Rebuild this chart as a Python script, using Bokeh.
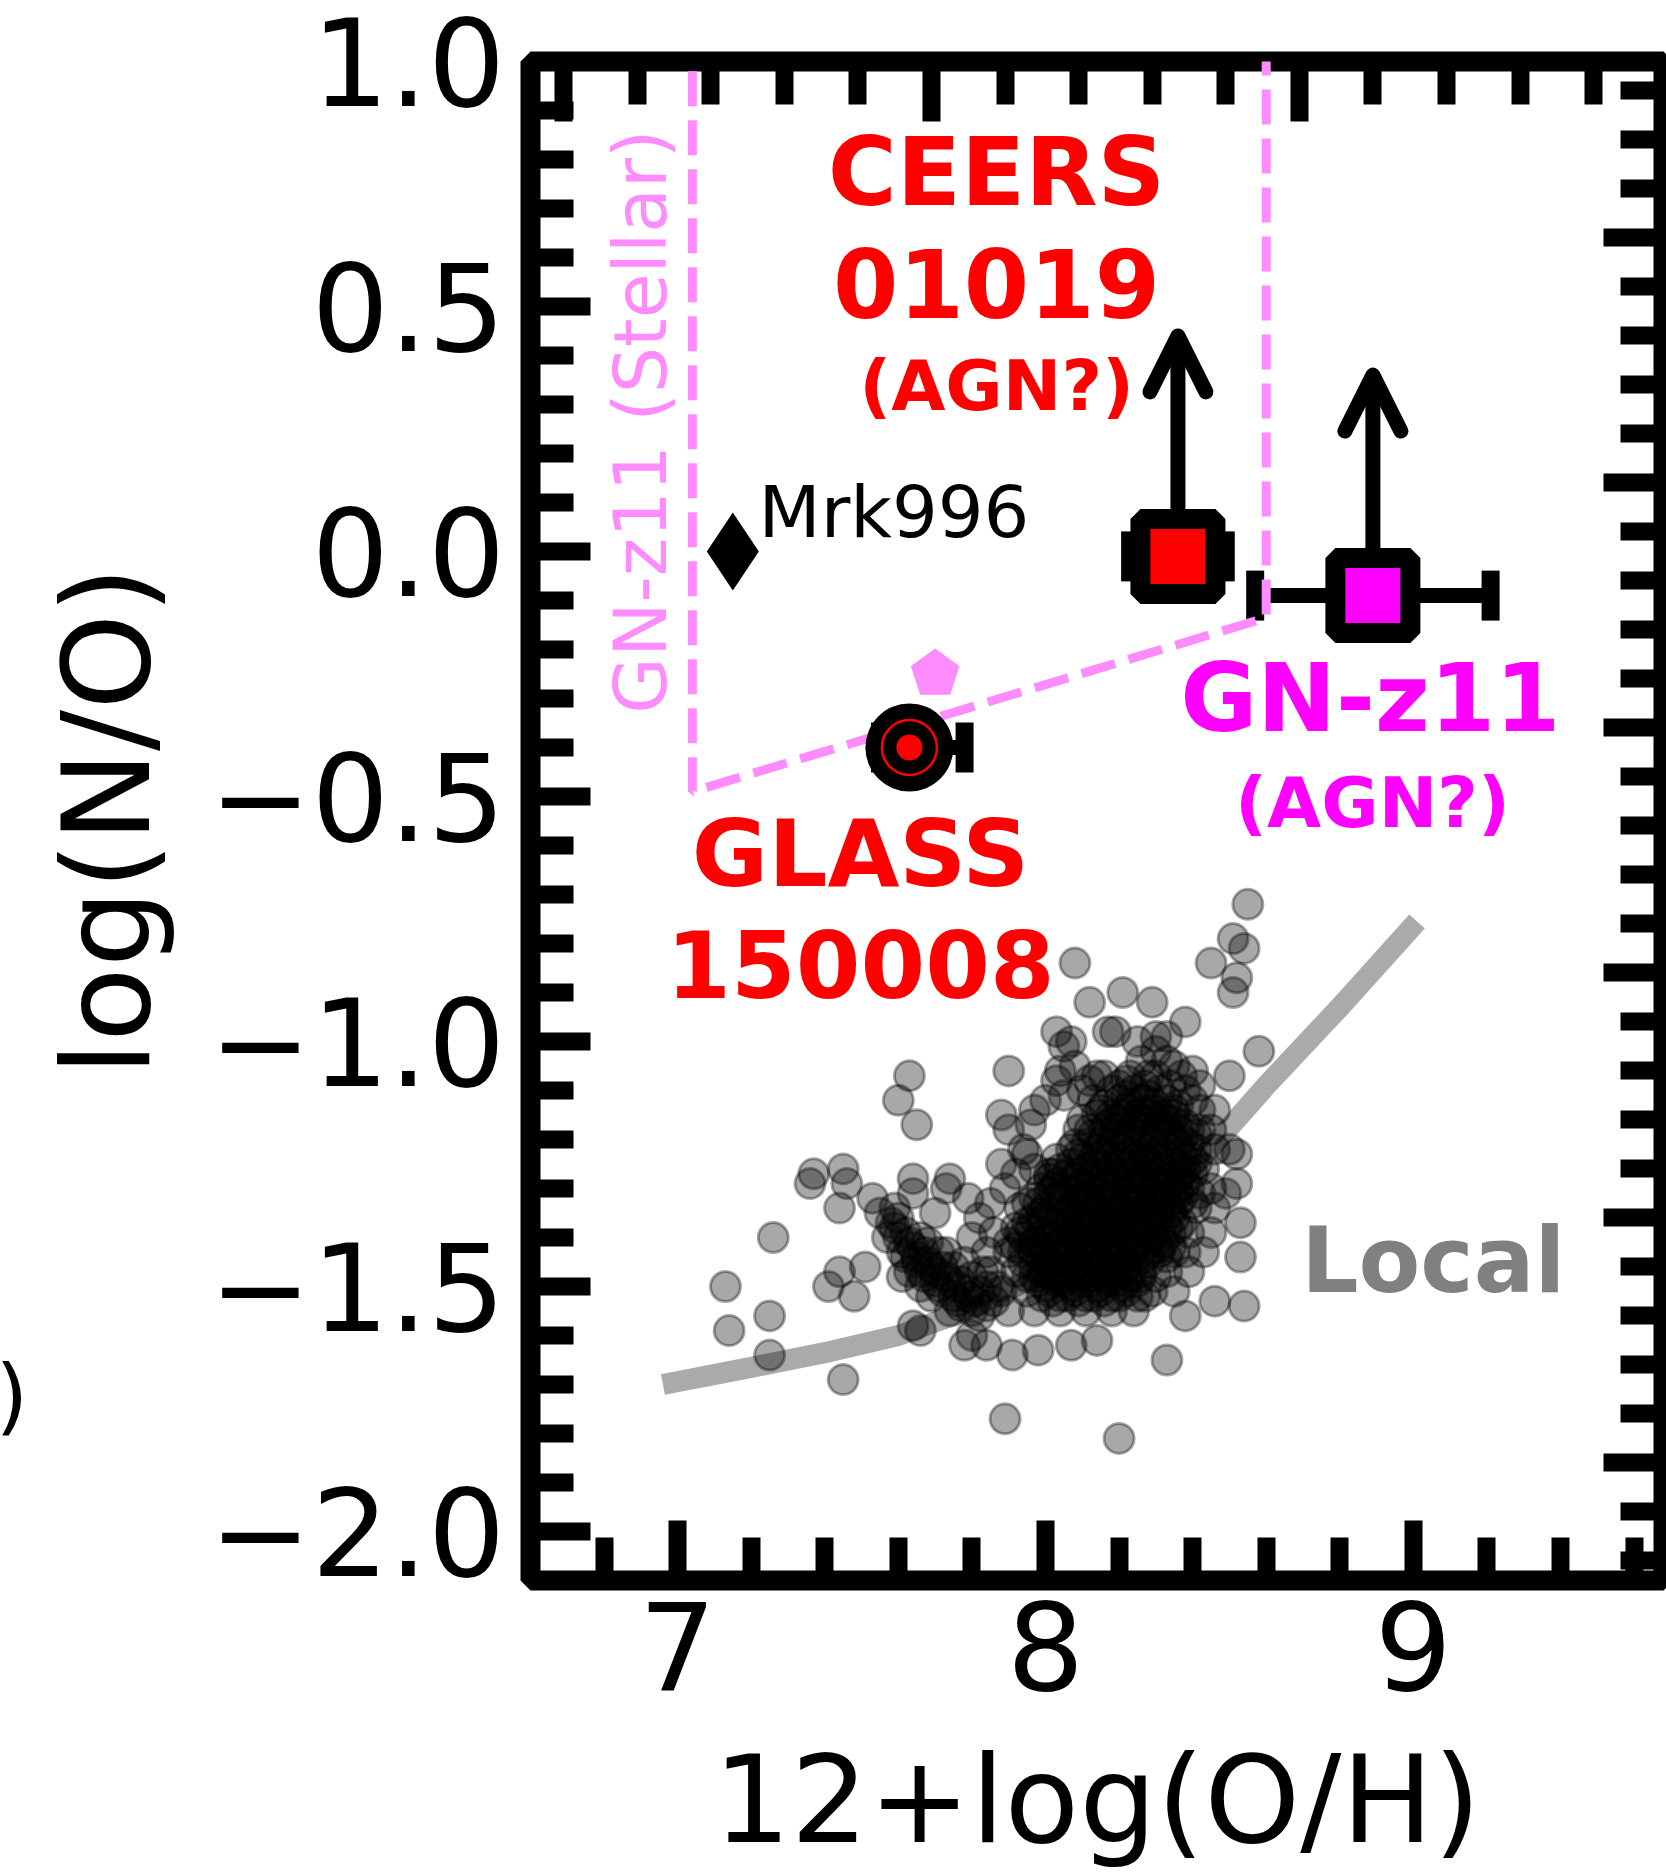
import math
from bokeh.plotting import figure
from bokeh.models import (Range1d, LinearAxis, FixedTicker, Arrow, OpenHead, Whisker, TeeHead,
                          ColumnDataSource, Label, CustomJSTickFormatter)
from bokeh.core.properties import value
from bokeh.embed import file_html
from bokeh.resources import INLINE

FONT = "DejaVu Sans"

# ---------------- data ----------------
x_range_vals = [6.6, 9.68]
y_range_vals = [-2.1, 1.0]
solar_oh = 8.69
solar_no = -0.86

x_major_ticks = [7, 8, 9]
x_tick_labels = ["7", "8", "9"]
x_minor_ticks = [6.8, 7.2, 7.4, 7.6, 7.8, 8.2, 8.4, 8.6, 8.8, 9.2, 9.4, 9.6]
y_major_ticks = [-2.0, -1.5, -1.0, -0.5, 0.0, 0.5, 1.0]
y_tick_labels = ["\u22122.0", "\u22121.5", "\u22121.0", "\u22120.5", "0.0", "0.5", "1.0"]
y_minor_ticks = [-1.9, -1.8, -1.7, -1.6, -1.4, -1.3, -1.2, -1.1, -0.9, -0.8, -0.7, -0.6,
                 -0.4, -0.3, -0.2, -0.1, 0.1, 0.2, 0.3, 0.4, 0.6, 0.7, 0.8, 0.9]
# top axis: log(Z/Zsun); right axis: [N/O]
top_major_ticks = [-2, -1, 0]
top_minor_ticks = [-1.8, -1.6, -1.4, -1.2, -0.8, -0.6, -0.4, -0.2, 0.2, 0.4, 0.6, 0.8]
right_major_ticks = [-1.0, -0.5, 0.0, 0.5, 1.0, 1.5]
right_minor_ticks = [-1.2, -1.1, -0.9, -0.8, -0.7, -0.6, -0.4, -0.3, -0.2, -0.1, 0.1, 0.2, 0.3,
                     0.4, 0.6, 0.7, 0.8, 0.9, 1.1, 1.2, 1.3, 1.4, 1.6, 1.7, 1.8]

# GN-z11 stellar-origin region (dashed boundary)
stellar_oh = [7.04, 7.04, 8.60, 8.60]
stellar_no = [1.08, -0.49, -0.135, 1.08]

# local relation curve
curve_oh = [6.96, 7.2, 7.4, 7.6, 7.8, 8.0, 8.2, 8.4, 8.6, 8.8, 9.01]
curve_no = [-1.70, -1.665, -1.635, -1.60, -1.545, -1.47, -1.375, -1.26, -1.09, -0.93, -0.755]

# local sample: individually read points
local_oh = [8.55, 8.51, 8.54, 8.45, 8.52, 8.51, 8.08, 8.58, 8.50, 7.90,
            7.88, 7.97, 7.90, 8.03, 8.12, 8.21, 8.29, 8.38, 8.30, 8.19,
            8.07, 8.04, 8.12, 8.26, 8.33, 8.42, 8.46, 8.05, 8.10, 8.52,
            7.88, 7.95, 8.01, 7.63, 7.60, 7.65, 7.37, 7.45, 7.64, 7.74,
            7.26, 7.13, 7.14, 7.25, 7.25, 7.45, 7.44, 7.51, 7.41, 7.48,
            7.61, 7.66, 7.64, 7.66, 7.44, 7.36, 7.46, 7.53, 7.59, 7.64,
            7.70, 7.73, 7.79, 7.78, 7.80, 8.53, 8.53, 8.46, 8.54, 8.38,
            8.24, 8.33, 8.14, 8.07, 7.98, 7.91, 7.84, 7.89, 8.20, 8.49,
            8.52, 8.50]
local_no = [-0.72, -0.79, -0.81, -0.84, -0.87, -0.90, -0.84, -1.02, -1.07, -1.06,
            -1.15, -1.14, -1.18, -0.98, -0.92, -0.90, -0.92, -0.96, -0.99, -0.98,
            -1.00, -1.06, -1.08, -1.04, -1.04, -1.09, -1.14, -1.11, -1.16, -1.23,
            -1.25, -1.23, -1.27, -1.07, -1.12, -1.17, -1.27, -1.26, -1.28, -1.28,
            -1.40, -1.50, -1.59, -1.56, -1.64, -1.69, -1.47, -1.46, -1.50, -1.52,
            -1.48, -1.50, -1.58, -1.59, -1.34, -1.29, -1.29, -1.32, -1.34, -1.31,
            -1.35, -1.30, -1.32, -1.62, -1.60, -1.37, -1.44, -1.53, -1.54, -1.56,
            -1.55, -1.65, -1.61, -1.62, -1.63, -1.64, -1.62, -1.77, -1.81, -1.31,
            -1.29, -1.22]
# low-metallicity lobe of the local sample
lobe_oh = [7.55, 7.58, 7.60, 7.63, 7.65, 7.68, 7.70, 7.73, 7.76, 7.79, 7.81, 7.57, 7.62,
           7.67, 7.72, 7.77, 7.82, 7.60, 7.66, 7.71, 7.75, 7.80, 7.84, 7.63, 7.69, 7.74,
           7.59, 7.64, 7.69, 7.74, 7.79, 7.84, 7.61, 7.66, 7.71, 7.76, 7.87, 7.83, 7.78, 7.73, 7.68,
           7.62, 7.67, 7.72, 7.77, 7.82, 7.86, 7.70, 7.75, 7.80, 7.65]
lobe_no = [-1.35, -1.37, -1.40, -1.41, -1.44, -1.45, -1.47, -1.48, -1.50, -1.51, -1.53, -1.40, -1.44,
           -1.48, -1.51, -1.54, -1.56, -1.36, -1.40, -1.43, -1.46, -1.48, -1.50, -1.47, -1.52, -1.55,
           -1.38, -1.42, -1.46, -1.49, -1.52, -1.54, -1.43, -1.47, -1.50, -1.53, -1.50, -1.47, -1.45, -1.43, -1.41,
           -1.39, -1.43, -1.46, -1.49, -1.51, -1.53, -1.49, -1.52, -1.55, -1.45]
# upper arm of the local sample
arm_oh = [8.05, 8.08, 8.03, 8.10, 8.14, 8.25, 8.30, 8.35, 8.28, 8.22, 8.17,
          8.33, 8.40, 8.00, 7.96, 7.94, 7.92, 7.97, 7.89, 7.85, 7.82, 7.80]
arm_no = [-1.01, -1.05, -1.08, -1.10, -1.07, -1.00, -1.02, -1.05, -1.07, -1.08, -0.98,
          -0.99, -1.06, -1.12, -1.17, -1.22, -1.27, -1.26, -1.30, -1.33, -1.36, -1.40]
# dense core of the local sample, read row by row (log N/O of the row, then 12+log(O/H) values)
core_rows_no = [-1.10, -1.14, -1.18, -1.22, -1.26, -1.30, -1.34, -1.39, -1.43, -1.47, -1.51, -1.55,
                -1.16, -1.20, -1.24, -1.28, -1.32, -1.36, -1.41, -1.45, -1.49, -1.53,
                -1.12, -1.17, -1.23, -1.29, -1.35, -1.40, -1.46, -1.50,
                -1.13, -1.19, -1.25, -1.31, -1.37, -1.42, -1.48, -1.52,
                -1.15, -1.21, -1.27, -1.33, -1.38, -1.44, -1.49,
                -1.24, -1.30, -1.36, -1.42, -1.47, -1.11, -1.16,
                -1.07, -1.12, -1.18, -1.24, -1.28, -1.33, -1.38, -1.43, -1.48, -1.52,
                -1.09, -1.15, -1.21, -1.27, -1.32, -1.37, -1.41, -1.46]
core_rows_oh = [
    [8.18, 8.24, 8.31, 8.38],
    [8.15, 8.22, 8.29, 8.35, 8.42],
    [8.12, 8.19, 8.26, 8.33, 8.39, 8.45],
    [8.07, 8.14, 8.20, 8.27, 8.34, 8.41, 8.46],
    [8.04, 8.11, 8.18, 8.24, 8.31, 8.38, 8.43],
    [7.99, 8.05, 8.12, 8.19, 8.26, 8.33, 8.39, 8.45],
    [7.93, 8.00, 8.07, 8.14, 8.20, 8.27, 8.34, 8.41, 8.46],
    [7.86, 7.93, 8.00, 8.07, 8.14, 8.20, 8.27, 8.34, 8.39, 8.45],
    [7.84, 7.90, 7.97, 8.04, 8.11, 8.18, 8.24, 8.31, 8.38, 8.43],
    [7.85, 7.92, 7.99, 8.05, 8.12, 8.19, 8.26, 8.33, 8.39],
    [7.88, 7.95, 8.01, 8.08, 8.15, 8.22, 8.29, 8.35],
    [7.90, 7.97, 8.04, 8.11, 8.18],
    [8.20, 8.27, 8.34],
    [8.16, 8.23, 8.30, 8.37],
    [8.13, 8.20, 8.27, 8.34, 8.40],
    [8.08, 8.15, 8.22, 8.29, 8.36],
    [8.03, 8.10, 8.17, 8.24, 8.31, 8.37],
    [7.97, 8.04, 8.11, 8.17, 8.24, 8.31],
    [7.90, 7.97, 8.04, 8.10, 8.17, 8.24, 8.30],
    [7.94, 8.01, 8.08, 8.15, 8.22, 8.28],
    [7.98, 8.05, 8.12, 8.19, 8.25],
    [8.02, 8.09, 8.16],
    [8.20, 8.27, 8.33],
    [8.17, 8.24, 8.31, 8.38],
    [8.09, 8.16, 8.23, 8.30, 8.37],
    [8.03, 8.10, 8.17, 8.24, 8.31, 8.38],
    [7.99, 8.06, 8.13, 8.20, 8.27, 8.34],
    [7.94, 8.01, 8.08, 8.15, 8.22, 8.29],
    [7.97, 8.04, 8.11, 8.18, 8.24],
    [8.00, 8.07, 8.14, 8.21],
    [8.16, 8.23, 8.30, 8.36],
    [8.13, 8.20, 8.27, 8.34, 8.41],
    [8.07, 8.14, 8.21, 8.28, 8.35, 8.41],
    [8.01, 8.08, 8.15, 8.22, 8.29, 8.36, 8.42],
    [7.95, 8.02, 8.09, 8.16, 8.23, 8.30, 8.37],
    [7.92, 7.99, 8.06, 8.13, 8.20, 8.27, 8.34],
    [7.95, 8.02, 8.09, 8.16, 8.23, 8.30],
    [7.99, 8.06, 8.13, 8.20, 8.27],
    [8.18, 8.25, 8.32],
    [8.11, 8.18, 8.25, 8.32, 8.39],
    [8.06, 8.13, 8.20, 8.27, 8.34, 8.40],
    [7.98, 8.05, 8.12, 8.19, 8.26, 8.33, 8.40],
    [7.96, 8.03, 8.10, 8.17, 8.24, 8.31, 8.36],
    [7.99, 8.06, 8.13, 8.20, 8.27, 8.33],
    [8.03, 8.10, 8.17, 8.22],
    [8.10, 8.17, 8.24, 8.31],
    [8.02, 8.09, 8.16, 8.23, 8.30, 8.36],
    [8.00, 8.07, 8.14, 8.21, 8.28, 8.35],
    [7.96, 8.03, 8.10, 8.17, 8.24, 8.31],
    [8.00, 8.07, 8.14, 8.21],
    [8.22, 8.28],
    [8.19, 8.26, 8.33],
    [8.16, 8.23, 8.30, 8.37],
    [8.13, 8.26, 8.40],
    [8.09, 8.16, 8.23, 8.30, 8.36, 8.42],
    [8.03, 8.27, 8.38],
    [8.01, 8.12, 8.19, 8.26, 8.33],
    [7.95, 8.08, 8.15, 8.22, 8.29, 8.36],
    [7.92, 8.05, 8.12, 8.19, 8.26, 8.33],
    [7.94, 8.00, 8.07, 8.14, 8.21, 8.28, 8.35],
    [7.97, 8.04, 8.11, 8.18, 8.26],
    [8.04, 8.11, 8.18, 8.25],
    [8.20, 8.27, 8.34],
    [8.14, 8.21, 8.28, 8.35],
    [8.08, 8.15, 8.22, 8.29, 8.36],
    [8.02, 8.09, 8.16, 8.23, 8.30, 8.37],
    [7.97, 8.04, 8.11, 8.18, 8.25, 8.32],
    [7.99, 8.06, 8.13, 8.20, 8.27],
    [7.97, 8.04, 8.11, 8.18, 8.25, 8.32],
    [8.01, 8.08, 8.15, 8.22],
]

# individual objects
mrk996_oh, mrk996_no = [7.15], [0.0]
ceers_oh, ceers_no = [8.36], [-0.01]
ceers_oh_err = [0.13]
ceers_no_limit_tip = [0.44]
gnz11_oh, gnz11_no = [8.89], [-0.09]
gnz11_oh_err = [0.32]
gnz11_no_limit_tip = [0.36]
glass_oh, glass_no = [7.63], [-0.40]
glass_oh_err_lo, glass_oh_err_hi = [0.08], [0.15]
glass_alt_oh, glass_alt_no = [7.70], [-0.25]

# ---------------- figure ----------------
p = figure(width=1666, height=1873,
           x_range=Range1d(*x_range_vals), y_range=Range1d(*y_range_vals),
           output_backend="svg", toolbar_location=None,
           min_border_left=530, min_border_right=3, min_border_top=61, min_border_bottom=293)
p.grid.visible = False
p.background_fill_color = "white"
p.border_fill_color = "white"
p.outline_line_color = "black"
p.outline_line_width = 20
p.outline_line_alpha = 1.0

p.extra_x_ranges = {"zsun": Range1d(x_range_vals[0] - solar_oh, x_range_vals[1] - solar_oh)}
p.extra_y_ranges = {"nosun": Range1d(y_range_vals[0] - solar_no, y_range_vals[1] - solar_no)}


def fmt(vals, labs):
    return CustomJSTickFormatter(args=dict(vals=vals, labs=labs), code="""
        for (let i = 0; i < vals.length; i++) {
            if (Math.abs(vals[i] - tick) < 1e-6) { return labs[i]; }
        }
        return "";
    """)


def style(ax, labelled, standoff):
    ax.axis_line_color = None
    ax.major_tick_in = 60
    ax.major_tick_out = 0
    ax.minor_tick_in = 43
    ax.minor_tick_out = 0
    ax.major_tick_line_width = 18
    ax.minor_tick_line_width = 18
    ax.major_tick_line_color = "black"
    ax.minor_tick_line_color = "black"
    ax.major_tick_line_cap = "butt"
    ax.minor_tick_line_cap = "butt"
    ax.major_label_standoff = standoff
    ax.major_label_text_font = FONT
    ax.major_label_text_color = "black"
    ax.major_label_text_font_size = "122px" if labelled else "0px"
    ax.axis_label_text_font = FONT
    ax.axis_label_text_font_style = "normal"
    ax.axis_label_text_font_size = "122px"
    ax.axis_label_text_color = "black"


xax = p.below[0]
xax.ticker = FixedTicker(ticks=x_major_ticks, minor_ticks=x_minor_ticks)
xax.formatter = fmt(x_major_ticks, x_tick_labels)
style(xax, True, 20)
xax.axis_label = "12+log(O/H)"
xax.axis_label_standoff = 36

yax = p.left[0]
yax.ticker = FixedTicker(ticks=y_major_ticks, minor_ticks=y_minor_ticks)
yax.formatter = fmt(y_major_ticks, y_tick_labels)
style(yax, True, 25)
yax.axis_label = "log(N/O)"
yax.axis_label_standoff = 28

top = LinearAxis(x_range_name="zsun",
                 ticker=FixedTicker(ticks=top_major_ticks, minor_ticks=top_minor_ticks),
                 formatter=CustomJSTickFormatter(code="return '';"))
style(top, False, 0)
p.add_layout(top, "above")

right = LinearAxis(y_range_name="nosun",
                   ticker=FixedTicker(ticks=right_major_ticks, minor_ticks=right_minor_ticks),
                   formatter=CustomJSTickFormatter(code="return '';"))
style(right, False, 0)
p.add_layout(right, "right")

PINK = "#ff8cff"
RED = "#ff0000"
MAGENTA = "#ff00ff"

# GN-z11 stellar region
p.line(stellar_oh, stellar_no, line_color=PINK, line_width=9, line_dash="35 14")
p.text(x=[6.90], y=[0.265], text=["GN-z11 (Stellar)"], angle=math.pi / 2,
       text_font=value(FONT), text_font_size="73px", text_color=PINK,
       text_align="center", text_baseline="middle")

# local relation and sample
p.line(curve_oh, curve_no, line_color="#aaaaaa", line_width=21)
all_oh = local_oh + lobe_oh + arm_oh
all_no = local_no + lobe_no + arm_no
for yv, row in zip(core_rows_no, core_rows_oh):
    all_oh += row
    all_no += [yv] * len(row)
p.scatter(all_oh, all_no, marker="circle", size=30, fill_color="black", fill_alpha=0.34,
          line_color="black", line_alpha=0.34, line_width=3)

# error bars (under the markers)
err_src = ColumnDataSource(dict(
    base=ceers_no + gnz11_no + glass_no,
    lower=[ceers_oh[0] - ceers_oh_err[0], gnz11_oh[0] - gnz11_oh_err[0], glass_oh[0] - glass_oh_err_lo[0]],
    upper=[ceers_oh[0] + ceers_oh_err[0], gnz11_oh[0] + gnz11_oh_err[0], glass_oh[0] + glass_oh_err_hi[0]],
))
p.add_layout(Whisker(source=err_src, base="base", lower="lower", upper="upper", dimension="width",
                     line_width=15, line_color="black", level="underlay",
                     upper_head=TeeHead(size=50, line_width=18, line_color="black"),
                     lower_head=TeeHead(size=50, line_width=18, line_color="black")))

# lower-limit arrows
for ox, oy, tip in [(ceers_oh, ceers_no, ceers_no_limit_tip), (gnz11_oh, gnz11_no, gnz11_no_limit_tip)]:
    p.add_layout(Arrow(end=OpenHead(size=56, line_width=15, line_color="black", line_cap="round",
                                    line_join="round"),
                       x_start=ox[0], y_start=oy[0], x_end=ox[0], y_end=tip[0],
                       line_width=15, line_color="black", level="underlay"))

# markers
p.scatter(ceers_oh, ceers_no, marker="square", size=75, fill_color=RED, line_color="black", line_width=20)
p.scatter(gnz11_oh, gnz11_no, marker="square", size=75, fill_color=MAGENTA, line_color="black", line_width=20)
p.scatter(mrk996_oh, mrk996_no, marker="diamond", size=78, fill_color="black", line_color=None)
p.ngon(x=glass_alt_oh, y=glass_alt_no, radius=25, radius_units="screen", n=5,
       angle=0, fill_color=PINK, line_color=PINK)
p.scatter(glass_oh, glass_no, marker="circle", size=88, fill_color="black", line_color=None)
p.scatter(glass_oh, glass_no, marker="circle", size=55, fill_color=None, line_color=RED, line_width=2.5)
p.scatter(glass_oh, glass_no, marker="circle", size=26, fill_color=RED, line_color=None)

# labels
p.text(x=[7.867, 7.867], y=[0.774, 0.547], text=["CEERS", "01019"], text_font=value(FONT),
       text_font_style="bold", text_font_size="94px", text_color=RED,
       text_align="center", text_baseline="alphabetic")
p.text(x=[7.867], y=[0.338], text=["(AGN?)"], text_font=value(FONT),
       text_font_style="bold", text_font_size="70px", text_color=RED,
       text_align="center", text_baseline="alphabetic")
p.text(x=[7.497, 7.497], y=[-0.618, -0.841], text=["GLASS", "150008"], text_font=value(FONT),
       text_font_style="bold", text_font_size="93px", text_color=RED,
       text_align="center", text_baseline="alphabetic")
p.text(x=[8.883], y=[-0.299], text=["GN-z11"], text_font=value(FONT),
       text_font_style="bold", text_font_size="94px", text_color=MAGENTA,
       text_align="center", text_baseline="alphabetic")
p.text(x=[8.889], y=[-0.514], text=["(AGN?)"], text_font=value(FONT),
       text_font_style="bold", text_font_size="70px", text_color=MAGENTA,
       text_align="center", text_baseline="alphabetic")
p.text(x=[9.054], y=[-1.447], text=["Local"], text_font=value(FONT),
       text_font_style="bold", text_font_size="90px", text_color="#808080",
       text_align="center", text_baseline="alphabetic")
p.text(x=[7.22], y=[0.08], text=["Mrk996"], text_font=value(FONT),
       text_font_size="72px", text_color="black",
       text_align="left", text_baseline="alphabetic")

# fragment of a neighbouring panel visible at the crop's left edge (canvas pixel units);
# placed in a side panel so it is not clipped to the plotting frame
p.add_layout(Label(x=-5, y=1395, x_units="canvas", y_units="canvas", text=")", text_font=FONT,
                   text_font_size="84px", text_color="black", text_baseline="alphabetic",
                   text_align="left"), "left")

open("out.html", "w").write(file_html(p, INLINE))
